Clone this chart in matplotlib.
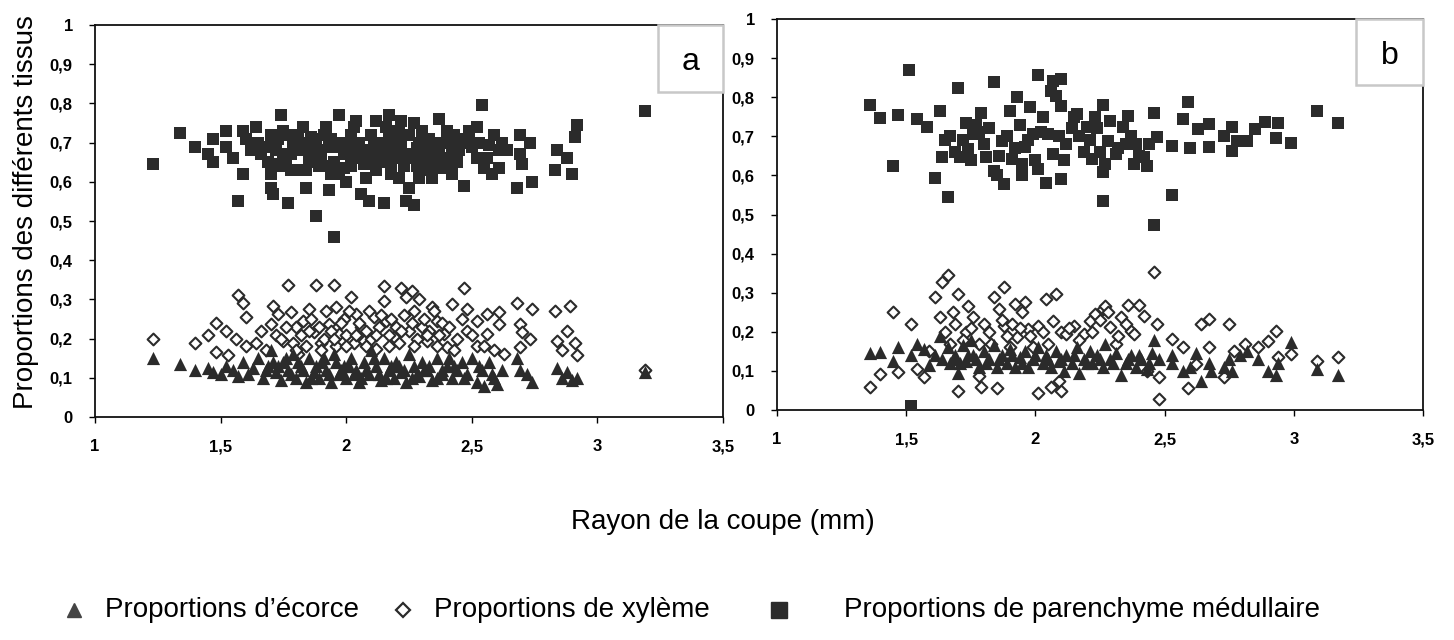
import matplotlib
matplotlib.use("Agg")
import matplotlib.pyplot as plt
from matplotlib.lines import Line2D
from matplotlib.patches import Rectangle

plt.rcParams['font.family'] = ['Liberation Sans', 'DejaVu Sans']

# ---- panel a : parenchyme medullaire (squares)
a_par_x = [1.23, 1.34, 1.40, 1.45, 1.47, 1.47, 1.52, 1.52, 1.55, 1.57, 1.59, 1.59, 1.60, 1.64,
           1.65, 1.66, 1.70, 1.70, 1.70, 1.71, 1.73, 1.74, 1.75, 1.77, 1.78, 1.80, 1.81, 1.83,
           1.84, 1.86, 1.87, 1.88, 1.89, 1.92, 1.93, 1.94, 1.95, 1.96, 1.97, 1.99, 2.00, 2.02,
           2.04, 2.04, 2.06, 2.07, 2.09, 2.11, 2.12, 2.13, 2.15, 2.16, 2.17, 2.18, 2.20, 2.21,
           2.22, 2.24, 2.24, 2.25, 2.27, 2.28, 2.29, 2.30, 2.32, 2.33, 2.36, 2.37, 2.38, 2.40,
           2.42, 2.44, 2.47, 2.48, 2.52, 2.52, 2.54, 2.55, 2.57, 2.59, 2.61, 2.61, 2.68, 2.69,
           2.69, 2.70, 2.73, 2.74, 2.83, 2.84, 2.88, 2.90, 2.91, 2.92, 3.19,
           1.68, 1.72, 1.76, 1.79, 1.82, 1.85, 1.88, 1.90, 1.93, 1.95, 1.98, 2.00, 2.02, 2.05,
           2.07, 2.09, 2.10, 2.13, 2.15, 2.17, 2.19, 2.20, 2.22, 2.23, 2.25, 2.26, 2.28, 2.30,
           2.31, 2.33, 2.35, 2.37, 2.39, 2.41, 2.43, 2.45, 1.74, 1.77, 1.84, 1.91, 1.97, 2.03,
           2.08, 2.12, 2.16, 2.21, 2.27, 2.34, 2.40, 2.46, 2.50, 2.56, 2.58, 2.62, 2.64,
           1.62, 1.69, 1.73, 1.78, 1.81, 1.86, 1.89, 1.94, 1.99, 2.01, 2.06, 2.11, 2.14, 2.18,
           2.23, 2.29, 2.32, 2.36, 2.42, 2.44, 2.49, 2.53, 1.75, 1.83, 1.92, 2.04, 2.19, 2.31]
a_par_y = [0.645, 0.725, 0.69, 0.67, 0.65, 0.71, 0.73, 0.69, 0.66, 0.55, 0.73, 0.62, 0.71, 0.74,
           0.70, 0.67, 0.72, 0.62, 0.585, 0.57, 0.645, 0.77, 0.73, 0.545, 0.67, 0.70, 0.63, 0.74,
           0.585, 0.715, 0.65, 0.513, 0.68, 0.74, 0.58, 0.62, 0.458, 0.69, 0.77, 0.635, 0.60, 0.72,
           0.67, 0.755, 0.57, 0.645, 0.55, 0.70, 0.755, 0.65, 0.545, 0.68, 0.77, 0.62, 0.71, 0.61,
           0.755, 0.66, 0.55, 0.585, 0.542, 0.685, 0.61, 0.73, 0.63, 0.67, 0.70, 0.76, 0.635, 0.73,
           0.62, 0.71, 0.59, 0.70, 0.66, 0.74, 0.795, 0.635, 0.695, 0.72, 0.635, 0.68, 0.585, 0.72,
           0.67, 0.645, 0.70, 0.60, 0.63, 0.68, 0.66, 0.62, 0.715, 0.745, 0.78,
           0.69, 0.68, 0.66, 0.70, 0.68, 0.66, 0.71, 0.66, 0.69, 0.65, 0.70, 0.67, 0.64, 0.70,
           0.68, 0.66, 0.72, 0.69, 0.67, 0.71, 0.66, 0.68, 0.70, 0.64, 0.72, 0.67, 0.64, 0.69,
           0.66, 0.71, 0.64, 0.68, 0.70, 0.66, 0.72, 0.68, 0.64, 0.72, 0.63, 0.72, 0.62, 0.74,
           0.61, 0.63, 0.74, 0.73, 0.75, 0.61, 0.65, 0.71, 0.69, 0.66, 0.62, 0.70, 0.68,
           0.68, 0.65, 0.71, 0.63, 0.72, 0.69, 0.64, 0.71, 0.67, 0.70, 0.66, 0.68, 0.70, 0.65,
           0.67, 0.70, 0.68, 0.66, 0.69, 0.65, 0.73, 0.70, 0.67, 0.70, 0.64, 0.69, 0.73, 0.63]

# ---- panel a : xyleme (open diamonds)
a_xyl_x = [1.23, 1.40, 1.45, 1.48, 1.48, 1.52, 1.53, 1.56, 1.57, 1.59, 1.60, 1.60, 1.64, 1.66,
           1.70, 1.71, 1.73, 1.75, 1.77, 1.78, 1.80, 1.81, 1.83, 1.85, 1.87, 1.88, 1.90, 1.92,
           1.93, 1.95, 1.96, 1.97, 1.99, 2.02, 2.04, 2.06, 2.07, 2.11, 2.12, 2.15, 2.15, 2.16,
           2.19, 2.22, 2.24, 2.26, 2.27, 2.29, 2.30, 2.32, 2.34, 2.36, 2.39, 2.40, 2.42, 2.47,
           2.48, 2.48, 2.52, 2.52, 2.56, 2.56, 2.59, 2.61, 2.61, 2.63, 2.68, 2.69, 2.69, 2.70,
           2.73, 2.74, 2.83, 2.84, 2.88, 2.89, 2.91, 2.92, 3.19,
           1.72, 1.76, 1.79, 1.82, 1.84, 1.86, 1.89, 1.91, 1.94, 1.96, 1.98, 2.00, 2.01, 2.03,
           2.05, 2.08, 2.09, 2.10, 2.13, 2.14, 2.17, 2.18, 2.20, 2.21, 2.23, 2.25, 2.26, 2.28,
           2.31, 2.33, 2.35, 2.37, 2.38, 2.41, 2.44, 2.46,
           1.68, 1.74, 1.80, 1.85, 1.90, 1.95, 2.00, 2.04, 2.08, 2.12, 2.17, 2.22, 2.27, 2.32,
           2.36, 2.43, 2.50, 2.55, 2.86]
a_xyl_y = [0.20, 0.19, 0.21, 0.24, 0.165, 0.22, 0.157, 0.20, 0.31, 0.29, 0.255, 0.18, 0.19, 0.22,
           0.237, 0.284, 0.263, 0.195, 0.336, 0.267, 0.229, 0.161, 0.246, 0.275, 0.216, 0.337, 0.19, 0.271,
           0.237, 0.337, 0.28, 0.212, 0.25, 0.305, 0.263, 0.229, 0.195, 0.254, 0.174, 0.335, 0.297, 0.246,
           0.203, 0.33, 0.305, 0.322, 0.271, 0.30, 0.229, 0.195, 0.28, 0.246, 0.212, 0.178, 0.288, 0.33,
           0.275, 0.22, 0.246, 0.182, 0.263, 0.212, 0.17, 0.237, 0.267, 0.161, 0.292, 0.178, 0.237, 0.216,
           0.20, 0.275, 0.271, 0.195, 0.22, 0.284, 0.19, 0.157, 0.12,
           0.21, 0.23, 0.19, 0.21, 0.18, 0.25, 0.23, 0.20, 0.22, 0.18, 0.24, 0.21, 0.27, 0.19,
           0.24, 0.22, 0.27, 0.20, 0.23, 0.26, 0.21, 0.25, 0.23, 0.19, 0.26, 0.22, 0.24, 0.20,
           0.25, 0.22, 0.27, 0.21, 0.24, 0.23, 0.20, 0.25,
           0.17, 0.20, 0.17, 0.22, 0.17, 0.20, 0.18, 0.21, 0.18, 0.21, 0.18, 0.22, 0.18, 0.21,
           0.18, 0.17, 0.21, 0.18, 0.17]

# ---- panel a : ecorce (triangles)
a_eco_x = [1.23, 1.34, 1.40, 1.45, 1.47, 1.50, 1.52, 1.55, 1.57, 1.59, 1.61, 1.63, 1.65, 1.67,
           1.69, 1.70, 1.72, 1.74, 1.75, 1.77, 1.79, 1.80, 1.82, 1.84, 1.85, 1.87, 1.89, 1.90,
           1.92, 1.94, 1.95, 1.97, 1.99, 2.00, 2.02, 2.04, 2.05, 2.07, 2.09, 2.10, 2.12, 2.14,
           2.15, 2.17, 2.19, 2.20, 2.22, 2.24, 2.25, 2.27, 2.29, 2.30, 2.32, 2.34, 2.36, 2.38,
           2.40, 2.42, 2.44, 2.46, 2.48, 2.50, 2.52, 2.54, 2.55, 2.57, 2.59, 2.60, 2.62, 2.68,
           2.69, 2.72, 2.74, 2.84, 2.86, 2.88, 2.90, 2.92, 3.19,
           1.68, 1.73, 1.78, 1.83, 1.88, 1.93, 1.98, 2.03, 2.08, 2.13, 2.18, 2.23, 2.28, 2.33,
           2.38, 2.43, 1.86, 1.96, 2.06, 2.16, 2.26, 2.36,
           1.71, 1.76, 1.81, 1.91, 2.01, 2.11, 2.21, 2.31, 2.41, 2.47, 2.53, 2.58]
a_eco_y = [0.15, 0.135, 0.12, 0.125, 0.115, 0.11, 0.13, 0.12, 0.105, 0.14, 0.11, 0.125, 0.15, 0.10,
           0.13, 0.17, 0.115, 0.095, 0.14, 0.12, 0.16, 0.10, 0.13, 0.09, 0.15, 0.115, 0.10, 0.14,
           0.12, 0.09, 0.16, 0.11, 0.13, 0.10, 0.15, 0.12, 0.09, 0.14, 0.11, 0.17, 0.13, 0.095,
           0.15, 0.12, 0.10, 0.14, 0.115, 0.09, 0.16, 0.13, 0.105, 0.14, 0.12, 0.095, 0.15, 0.11,
           0.13, 0.10, 0.12, 0.14, 0.11, 0.15, 0.09, 0.12, 0.08, 0.14, 0.10, 0.085, 0.12, 0.15,
           0.12, 0.11, 0.09, 0.125, 0.10, 0.115, 0.095, 0.10, 0.115,
           0.12, 0.13, 0.11, 0.12, 0.13, 0.11, 0.12, 0.11, 0.12, 0.11, 0.13, 0.12, 0.11, 0.13,
           0.12, 0.13, 0.10, 0.14, 0.10, 0.10, 0.10, 0.10,
           0.14, 0.15, 0.14, 0.15, 0.13, 0.15, 0.13, 0.12, 0.15, 0.10, 0.13, 0.11]

# ---- panel b : parenchyme medullaire (squares)
b_par_x = [1.36, 1.40, 1.47, 1.45, 1.51, 1.54, 1.58, 1.61, 1.63, 1.64, 1.65, 1.66, 1.70, 1.71,
           1.73, 1.74, 1.76, 1.79, 1.81, 1.84, 1.84, 1.87, 1.88, 1.90, 1.91, 1.93, 1.95, 1.96,
           1.98, 1.99, 2.01, 2.01, 2.03, 2.04, 2.05, 2.06, 2.07, 2.07, 2.08, 2.10, 2.10, 2.10,
           2.12, 2.16, 2.19, 2.20, 2.22, 2.23, 2.26, 2.26, 2.26, 2.28, 2.31, 2.34, 2.36, 2.38,
           2.39, 2.42, 2.43, 2.46, 2.46, 2.47, 2.53, 2.53, 2.57, 2.59, 2.60, 2.63, 2.67, 2.67,
           2.73, 2.76, 2.76, 2.78, 2.82, 2.85, 2.89, 2.93, 2.94, 2.99, 3.09, 3.17, 1.52,
           1.67, 1.69, 1.72, 1.75, 1.78, 1.80, 1.82, 1.86, 1.89, 1.92, 1.94, 1.97, 2.00, 2.02,
           2.09, 2.11, 2.14, 2.17, 2.21, 2.24, 2.25, 2.29, 2.32, 2.35, 2.37, 2.40, 2.44, 1.77,
           1.85, 1.95, 2.15, 2.27]
b_par_y = [0.78, 0.747, 0.755, 0.625, 0.87, 0.745, 0.725, 0.593, 0.765, 0.646, 0.69, 0.546, 0.824, 0.646,
           0.735, 0.668, 0.706, 0.759, 0.646, 0.838, 0.612, 0.689, 0.578, 0.765, 0.642, 0.80, 0.60, 0.672,
           0.776, 0.706, 0.858, 0.617, 0.749, 0.58, 0.706, 0.817, 0.842, 0.655, 0.804, 0.59, 0.847, 0.778,
           0.68, 0.757, 0.659, 0.723, 0.642, 0.749, 0.608, 0.78, 0.535, 0.689, 0.655, 0.723, 0.753, 0.629,
           0.68, 0.646, 0.625, 0.759, 0.473, 0.697, 0.676, 0.551, 0.744, 0.787, 0.67, 0.719, 0.672, 0.731,
           0.702, 0.663, 0.723, 0.689, 0.689, 0.719, 0.736, 0.696, 0.733, 0.682, 0.765, 0.733, 0.009,
           0.70, 0.66, 0.69, 0.64, 0.71, 0.68, 0.72, 0.65, 0.70, 0.67, 0.73, 0.69, 0.64, 0.71,
           0.70, 0.64, 0.72, 0.70, 0.69, 0.72, 0.66, 0.74, 0.67, 0.68, 0.70, 0.65, 0.68, 0.73,
           0.60, 0.63, 0.75, 0.63]

# ---- panel b : xyleme (open diamonds)
b_xyl_x = [1.36, 1.40, 1.45, 1.47, 1.52, 1.54, 1.57, 1.59, 1.61, 1.63, 1.64, 1.66, 1.67, 1.68,
           1.70, 1.70, 1.73, 1.74, 1.76, 1.78, 1.79, 1.80, 1.83, 1.84, 1.85, 1.86, 1.88, 1.88,
           1.90, 1.91, 1.92, 1.93, 1.95, 1.96, 1.97, 1.99, 2.01, 2.01, 2.04, 2.05, 2.06, 2.07,
           2.08, 2.09, 2.10, 2.10, 2.12, 2.15, 2.19, 2.21, 2.23, 2.26, 2.27, 2.29, 2.31, 2.33,
           2.36, 2.37, 2.38, 2.40, 2.42, 2.43, 2.46, 2.47, 2.48, 2.48, 2.53, 2.57, 2.59, 2.62,
           2.64, 2.67, 2.67, 2.73, 2.75, 2.77, 2.81, 2.86, 2.90, 2.93, 2.94, 2.99, 3.09, 3.17,
           1.65, 1.69, 1.72, 1.75, 1.78, 1.82, 1.87, 1.89, 1.94, 1.98, 2.03, 2.13, 2.17, 2.22,
           2.25, 2.28, 2.32, 2.35]
b_xyl_y = [0.06, 0.092, 0.25, 0.098, 0.22, 0.105, 0.085, 0.152, 0.288, 0.239, 0.327, 0.344, 0.169, 0.25,
           0.297, 0.049, 0.199, 0.267, 0.239, 0.088, 0.058, 0.22, 0.169, 0.288, 0.056, 0.258, 0.216, 0.315,
           0.16, 0.22, 0.271, 0.186, 0.25, 0.275, 0.207, 0.16, 0.043, 0.216, 0.284, 0.169, 0.058, 0.228,
           0.297, 0.075, 0.049, 0.199, 0.194, 0.216, 0.194, 0.228, 0.245, 0.258, 0.267, 0.211, 0.169, 0.237,
           0.268, 0.203, 0.194, 0.268, 0.241, 0.10, 0.352, 0.22, 0.084, 0.028, 0.182, 0.16, 0.056, 0.118,
           0.22, 0.233, 0.16, 0.084, 0.22, 0.152, 0.169, 0.16, 0.177, 0.203, 0.135, 0.142, 0.126, 0.135,
           0.20, 0.22, 0.18, 0.21, 0.17, 0.20, 0.23, 0.19, 0.21, 0.19, 0.20, 0.21, 0.18, 0.20,
           0.23, 0.25, 0.19, 0.22]

# ---- panel b : ecorce (triangles)
b_eco_x = [1.36, 1.40, 1.45, 1.47, 1.52, 1.54, 1.57, 1.59, 1.61, 1.63, 1.64, 1.66, 1.67, 1.69,
           1.70, 1.72, 1.73, 1.75, 1.76, 1.78, 1.80, 1.82, 1.84, 1.85, 1.87, 1.89, 1.90, 1.92,
           1.94, 1.96, 1.97, 1.99, 2.01, 2.03, 2.04, 2.06, 2.08, 2.09, 2.11, 2.12, 2.14, 2.16,
           2.17, 2.19, 2.21, 2.22, 2.24, 2.26, 2.27, 2.29, 2.31, 2.33, 2.35, 2.37, 2.39, 2.41,
           2.43, 2.45, 2.46, 2.48, 2.53, 2.53, 2.57, 2.60, 2.62, 2.64, 2.67, 2.68, 2.73, 2.75,
           2.76, 2.79, 2.82, 2.86, 2.90, 2.93, 2.94, 2.99, 3.09, 3.17,
           1.68, 1.71, 1.74, 1.77, 1.81, 1.86, 1.91, 1.95, 2.00, 2.05, 2.10, 2.15, 2.20, 2.25,
           2.30, 2.36, 2.40, 2.44]
b_eco_y = [0.145, 0.148, 0.125, 0.16, 0.14, 0.17, 0.155, 0.115, 0.14, 0.19, 0.13, 0.16, 0.12, 0.14,
           0.095, 0.165, 0.125, 0.18, 0.14, 0.11, 0.15, 0.13, 0.165, 0.11, 0.14, 0.12, 0.155, 0.11,
           0.135, 0.15, 0.11, 0.13, 0.16, 0.12, 0.14, 0.11, 0.15, 0.125, 0.10, 0.14, 0.12, 0.16,
           0.095, 0.13, 0.15, 0.12, 0.14, 0.11, 0.17, 0.13, 0.145, 0.09, 0.12, 0.14, 0.11, 0.13,
           0.105, 0.145, 0.18, 0.13, 0.12, 0.14, 0.10, 0.11, 0.145, 0.075, 0.12, 0.10, 0.11, 0.13,
           0.10, 0.14, 0.15, 0.13, 0.10, 0.09, 0.12, 0.175, 0.105, 0.09,
           0.13, 0.12, 0.14, 0.13, 0.12, 0.13, 0.14, 0.12, 0.14, 0.13, 0.13, 0.14, 0.12, 0.13,
           0.12, 0.13, 0.14, 0.12]

x_ticks = [1, 1.5, 2, 2.5, 3, 3.5]
x_labels = ['1', '1,5', '2', '2,5', '3', '3,5']
y_ticks = [0, 0.1, 0.2, 0.3, 0.4, 0.5, 0.6, 0.7, 0.8, 0.9, 1]
y_labels = ['0', '0,1', '0,2', '0,3', '0,4', '0,5', '0,6', '0,7', '0,8', '0,9', '1']

INK = '#2b2b2b'
W, H = 1454, 640


def draw_panel(ax, eco_x, eco_y, xyl_x, xyl_y, par_x, par_y, letter):
    ax.scatter(xyl_x, xyl_y, marker='D', s=36, facecolors='white', edgecolors=INK,
               linewidths=1.5, zorder=2)
    ax.scatter(eco_x, eco_y, marker='^', s=90, color=INK, linewidths=0, zorder=3)
    ax.scatter(par_x, par_y, marker='s', s=80, color=INK, linewidths=0, zorder=4)
    ax.set_xlim(1, 3.5)
    ax.set_ylim(0, 1)
    ax.set_xticks(x_ticks)
    ax.set_xticklabels(x_labels)
    ax.set_yticks(y_ticks)
    ax.set_yticklabels(y_labels)
    ax.tick_params(direction='out', length=4, width=1, labelsize=12, pad=12)
    for lab in ax.get_xticklabels() + ax.get_yticklabels():
        lab.set_fontweight('bold')
    for sp in ax.spines.values():
        sp.set_linewidth(1.3)
        sp.set_color('#111111')
    ax.add_patch(Rectangle((0.897, 0.83), 0.103, 0.17, transform=ax.transAxes,
                           facecolor='white', edgecolor='#c8c8c8', linewidth=1.8,
                           zorder=5, clip_on=False))
    ax.text(0.948, 0.905, letter, transform=ax.transAxes, ha='center', va='center',
            fontsize=23, zorder=6)


fig = plt.figure(figsize=(W / 100, H / 100), dpi=100)
ax_a = fig.add_axes([95 / W, 1 - 417 / H, 628 / W, 392 / H])
ax_b = fig.add_axes([777 / W, 1 - 410 / H, 646 / W, 391 / H])

draw_panel(ax_a, a_eco_x, a_eco_y, a_xyl_x, a_xyl_y, a_par_x, a_par_y, 'a')
draw_panel(ax_b, b_eco_x, b_eco_y, b_xyl_x, b_xyl_y, b_par_x, b_par_y, 'b')

fig.text(26 / W, 1 - 212 / H, 'Proportions des différents tissus', rotation=90,
         ha='center', va='center', fontsize=20)
fig.text(723 / W, 1 - 522 / H, 'Rayon de la coupe (mm)', ha='center', va='center',
         fontsize=20)

# legend row
leg_y = 1 - 610 / H
fig.add_artist(Line2D([74 / W], [leg_y], marker='^', markersize=10, color='#444444',
                      linestyle='none', transform=fig.transFigure))
fig.text(105 / W, leg_y, 'Proportions d\u2019écorce', ha='left', va='center', fontsize=20)
fig.add_artist(Line2D([403 / W], [leg_y], marker='D', markersize=7, markerfacecolor='white',
                      markeredgecolor=INK, markeredgewidth=1.6, linestyle='none',
                      transform=fig.transFigure))
fig.text(434 / W, leg_y, 'Proportions de xylème', ha='left', va='center', fontsize=20)
fig.add_artist(Line2D([779 / W], [leg_y], marker='s', markersize=12, color=INK,
                      linestyle='none', transform=fig.transFigure))
fig.text(844 / W, leg_y, 'Proportions de parenchyme médullaire', ha='left', va='center',
         fontsize=20)

fig.savefig('out.png', dpi=100, facecolor='white')
